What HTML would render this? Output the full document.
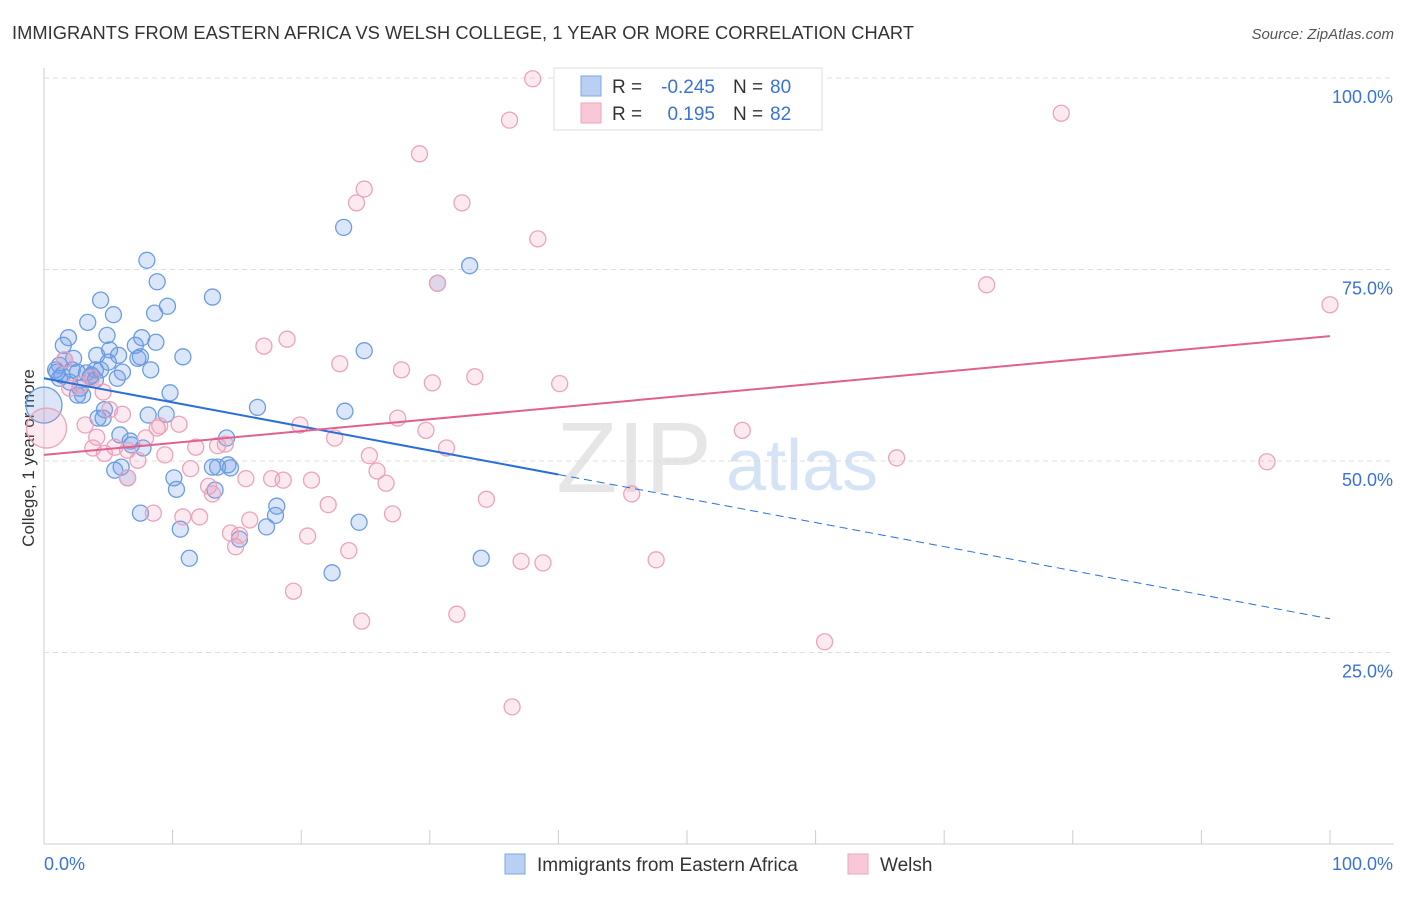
<!DOCTYPE html>
<html><head><meta charset="utf-8"><style>
body{margin:0;background:#fff;font-family:"Liberation Sans",sans-serif;}
svg text{font-family:"Liberation Sans",sans-serif;}
</style></head><body>
<svg id="chart" width="1406" height="892" xmlns="http://www.w3.org/2000/svg">
<text x="12" y="39" font-size="18.3" fill="#333" textLength="902">IMMIGRANTS FROM EASTERN AFRICA VS WELSH COLLEGE, 1 YEAR OR MORE CORRELATION CHART</text>
<text x="1394" y="39" font-size="15" fill="#555" text-anchor="end" font-style="italic">Source: ZipAtlas.com</text>
<text transform="translate(34,458) rotate(-90)" font-size="17" fill="#333" text-anchor="middle">College, 1 year or more</text>
<g id="grid"></g>
<g>
<text x="634" y="492" font-size="100" fill="#dcdcdc" text-anchor="middle" font-family="Liberation Serif" opacity="0.7">ZIP</text>
<text x="802" y="490" font-size="72" fill="#c4d8f2" text-anchor="middle" opacity="0.7">atlas</text>
</g>
<g id="pts"></g>
<g id="trends"></g>
<g>
<rect x="554" y="68" width="268" height="62" fill="#fff" stroke="#ddd"/>
<rect x="581" y="76" width="20" height="20" fill="#b9d0f3" stroke="#7fa6e6"/>
<rect x="581" y="103" width="20" height="20" fill="#f9c8d8" stroke="#eea5bd"/>
<text x="612" y="93" font-size="19" fill="#333">R =</text>
<text x="715" y="93" font-size="19" fill="#3a72d8" text-anchor="end">-0.245</text>
<text x="733" y="93" font-size="19" fill="#333">N =</text>
<text x="770" y="93" font-size="19" fill="#3a72d8">80</text>
<text x="612" y="120" font-size="19" fill="#333">R =</text>
<text x="715" y="120" font-size="19" fill="#3a72d8" text-anchor="end">0.195</text>
<text x="733" y="120" font-size="19" fill="#333">N =</text>
<text x="770" y="120" font-size="19" fill="#3a72d8">82</text>
</g>
<g>
<rect x="505" y="854" width="20" height="20" fill="#b9d0f3" stroke="#7fa6e6"/>
<text x="537" y="871" font-size="19" fill="#333">Immigrants from Eastern Africa</text>
<rect x="848" y="854" width="20" height="20" fill="#f9c8d8" stroke="#eea5bd"/>
<text x="880" y="871" font-size="19" fill="#333">Welsh</text>
</g>
</svg>
<script>
const xTicks=[0,10,20,30,40,50,60,70,80,90,100];
const yTicks=[25,50,75,100];
const blueX=[0.9,1.2,1.6,1.9,1.5,2.3,2.6,3.0,2.8,3.4,3.7,4.1,4.4,4.6,4.7,4.9,5.1,5.4,5.7,5.8,6.1,5.9,5.5,6.0,6.5,6.8,7.1,7.3,7.5,7.6,7.7,8.0,8.1,8.3,8.6,8.7,8.8,7.5,9.5,9.6,9.8,10.1,10.3,10.6,10.8,11.3,13.1,13.1,13.3,13.5,14.2,14.3,14.5,15.2,16.6,17.3,18.0,18.1,22.4,23.3,23.4,24.5,24.9,30.6,33.1,34.0,3.3,4.0,2.2,1.0,1.4,2.0,4.0,5.0,3.6,2.6,6.7,4.2,4.4,1.2];
const blueY=[61.9,62.5,63.2,66.1,65.1,63.4,61.6,58.6,59.5,68.1,61.2,63.8,71.0,55.6,56.7,66.4,64.5,69.1,60.8,63.8,61.6,53.4,48.8,49.2,47.8,52.1,65.1,63.4,63.6,66.1,51.7,76.2,56.0,61.9,69.3,65.5,73.4,43.2,56.1,70.2,58.9,47.8,46.3,41.1,63.6,37.3,49.2,71.4,46.2,49.2,53.0,49.5,49.1,39.8,57.0,41.4,42.9,44.1,35.4,80.5,56.5,42.0,64.4,73.2,75.5,37.3,61.5,61.9,61.9,61.6,61.2,60.3,60.6,62.9,61.0,58.6,52.6,55.6,61.9,60.8];
const pinkX=[38.0,41.2,36.2,29.2,24.9,24.3,32.5,38.4,79.1,73.3,100,30.6,18.9,17.1,23.0,27.8,33.5,30.2,40.1,1.6,2.0,2.8,3.7,4.6,5.1,6.1,3.2,4.1,3.8,5.5,6.5,7.3,7.9,8.8,9.4,10.5,11.4,11.8,13.5,14.1,12.8,13.1,15.7,17.7,18.6,20.8,19.9,22.6,25.3,25.9,26.6,27.5,29.7,31.3,34.4,27.1,22.1,23.7,20.5,14.9,15.2,16.0,10.8,12.1,8.5,6.5,19.4,24.7,32.1,37.1,38.8,47.6,45.7,54.3,66.3,95.1,60.7,36.4,4.7,9.0,14.5];
const pinkY=[99.9,99.9,94.5,90.1,85.5,83.7,83.7,79.0,95.4,73.0,70.4,73.2,65.9,65.0,62.7,61.9,61.0,60.2,60.1,63.2,59.5,59.9,60.8,59.0,56.7,56.1,54.7,53.1,51.7,51.8,51.4,50.1,53.0,54.3,50.8,54.8,49.0,51.8,52.0,52.2,46.7,45.7,47.7,47.7,47.5,47.5,54.7,53.0,50.7,48.7,47.1,55.6,54.0,51.7,45.0,43.1,44.3,38.3,40.2,38.8,40.3,42.3,42.7,42.7,43.2,47.8,33.0,29.1,30.0,36.9,36.7,37.1,45.7,54.0,50.4,49.9,26.4,17.9,51.0,54.6,40.6];
const bigBlue=[0,57.3], bigPink=[0.2,54.3];
const blueTrend=[60.8,29.4], pinkTrend=[50.8,66.3];
const sx=v=>44+v*12.86, sy=v=>844-v*7.66;
const NS="http://www.w3.org/2000/svg";
function mk(t,a,p){const e=document.createElementNS(NS,t);for(const k in a)e.setAttribute(k,a[k]);p.appendChild(e);return e;}
const grid=document.getElementById('grid');
mk('line',{x1:44,y1:68,x2:44,y2:844,stroke:'#ccc'},grid);
mk('line',{x1:44,y1:844,x2:1394,y2:844,stroke:'#ccc'},grid);
xTicks.forEach(t=>{const l=mk('line',{x1:sx(t),y1:830,x2:sx(t),y2:844,stroke:'#ccc'},grid);

});
yTicks.forEach(t=>{const l=mk('line',{x1:44,y1:sy(t),x2:1394,y2:sy(t),stroke:'#ddd','stroke-dasharray':'5,4'},grid);


const tx=mk('text',{x:1393,y:sy(t)+25,'font-size':18,fill:'#3a72d8','text-anchor':'end'},grid);tx.textContent=t.toFixed(1)+'%';

});
const xl=mk('text',{x:44,y:870,'font-size':18,fill:'#3a72d8'},grid);xl.textContent='0.0%';


const xr=mk('text',{x:1393,y:870,'font-size':18,fill:'#3a72d8','text-anchor':'end'},grid);xr.textContent='100.0%';


const pts=document.getElementById('pts');
function dot(x,y,r,blue){const c=mk('circle',{cx:sx(x),cy:sy(y),r:r,fill:blue?'rgba(110,155,230,0.25)':'rgba(240,150,180,0.2)',stroke:blue?'#6b9de2':'#eba3bb','stroke-width':1.3},pts);return c;}
let c=dot(bigBlue[0],bigBlue[1],18,true);


c=dot(bigPink[0],bigPink[1],20,false);


blueX.forEach((x,i)=>{const e=dot(x,blueY[i],8,true);

});
pinkX.forEach((x,i)=>{const e=dot(x,pinkY[i],8,false);

});
const tr=document.getElementById('trends');
const bAt=x=>blueTrend[0]+(blueTrend[1]-blueTrend[0])*x/100;
let l=mk('line',{x1:sx(0),y1:sy(bAt(0)),x2:sx(40),y2:sy(bAt(40)),stroke:'#2a6fd8','stroke-width':2},tr);


l=mk('line',{x1:sx(40),y1:sy(bAt(40)),x2:sx(100),y2:sy(bAt(100)),stroke:'#2a6fd8','stroke-width':1,'stroke-dasharray':'8,5'},tr);


l=mk('line',{x1:sx(0),y1:sy(pinkTrend[0]),x2:sx(100),y2:sy(pinkTrend[1]),stroke:'#e0608e','stroke-width':2},tr);


</script>
</body></html>
